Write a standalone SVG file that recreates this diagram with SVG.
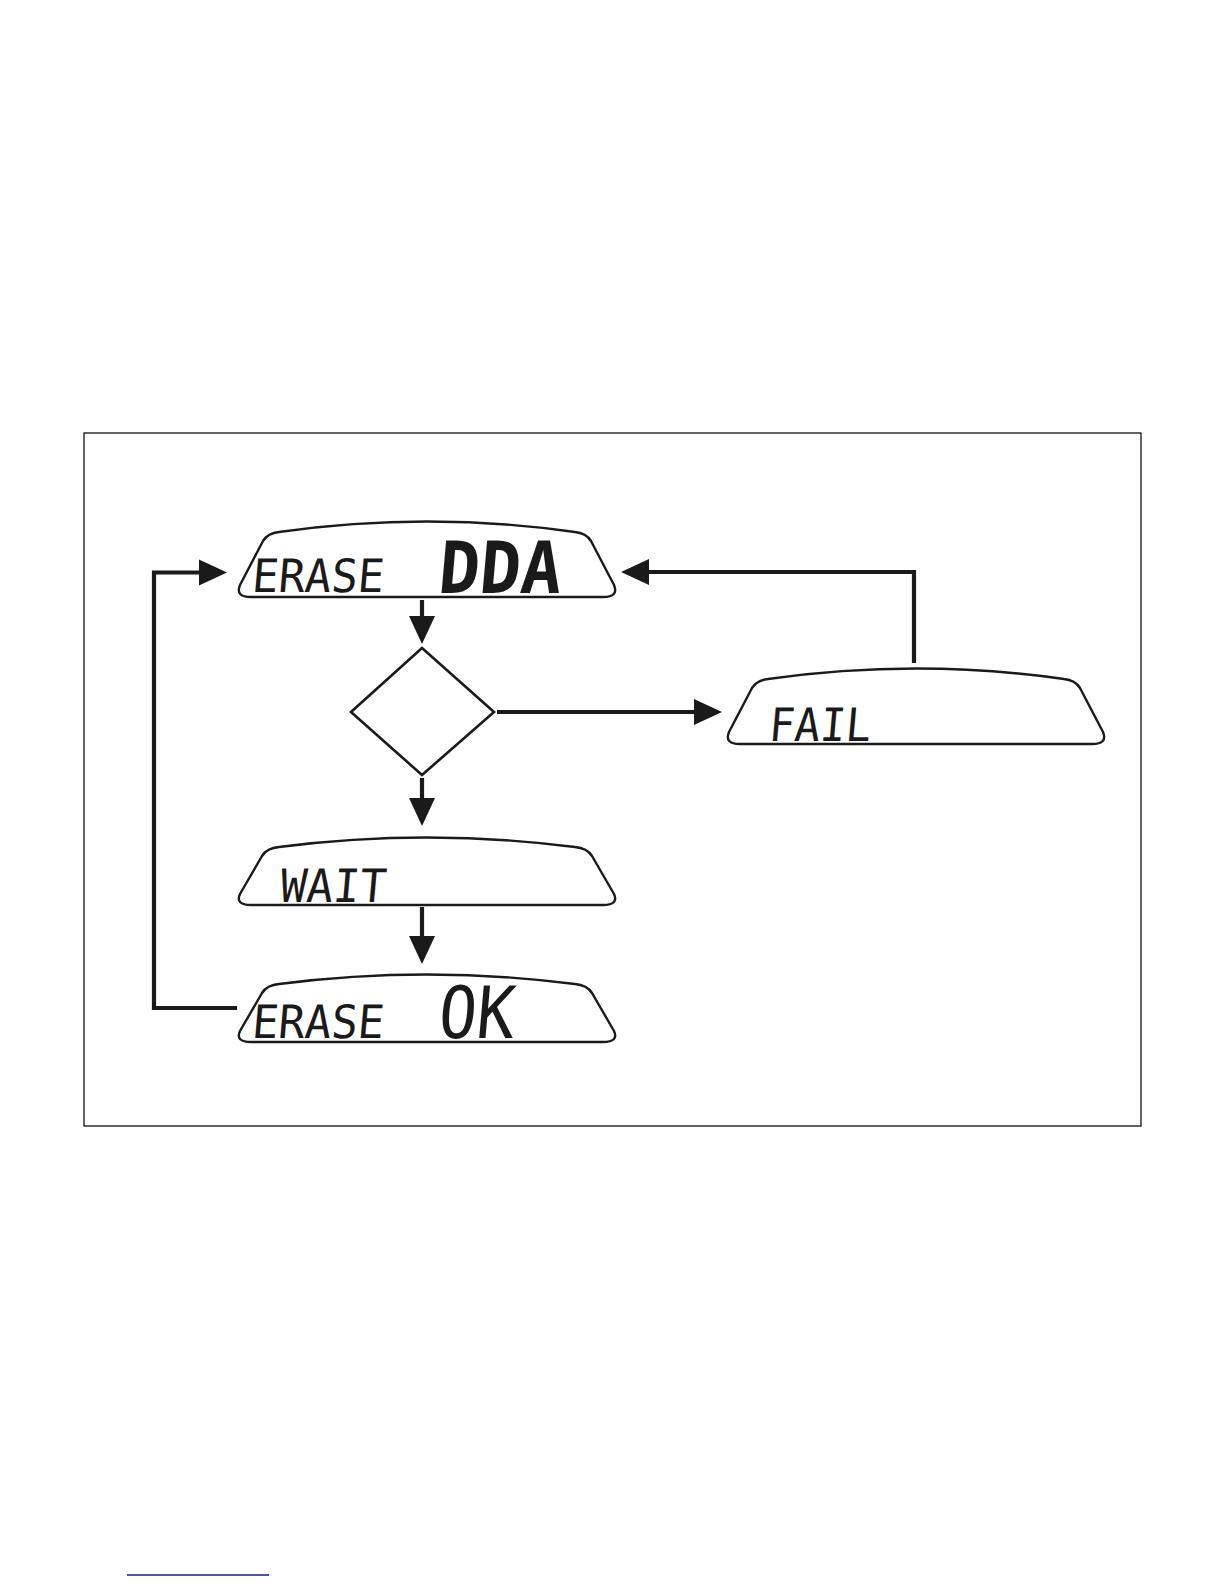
<svg xmlns="http://www.w3.org/2000/svg" width="1224" height="1584" viewBox="0 0 1224 1584">
<style>
.frame{fill:none;stroke:#111;stroke-width:1.3}
.lcd{fill:#fff;stroke:#1a1a1a;stroke-width:2.4;stroke-linejoin:round}
.dia{fill:#fff;stroke:#1a1a1a;stroke-width:2.6}
.conn{fill:none;stroke:#1a1a1a;stroke-width:4.2;stroke-linejoin:miter}
.seg{font-family:"DejaVu Sans Mono","Liberation Mono",monospace;fill:#1a1a1a}
.small{font-size:46px;font-weight:normal}
.big{font-size:72px;font-weight:bold}
</style>
<defs>
<path id="lcdTall" d="M 14,76 H 366 Q 382,76 377,64 L 354,20 Q 349,12 338,11 Q 190,-10 42,11 Q 31,12 26,20 L 3,64 Q -2,76 14,76 Z"/>
<path id="lcdShort" d="M 14,68 H 366 Q 382,68 377,57 L 355,19 Q 350,11 338,10 Q 190,-9 42,10 Q 30,11 25,19 L 3,57 Q -2,68 14,68 Z"/>
<marker id="ah" markerUnits="userSpaceOnUse" markerWidth="30" markerHeight="28" refX="2" refY="13" orient="auto" viewBox="0 0 30 26">
<path d="M0,0 L28,13 L0,26 Z" fill="#1a1a1a"/>
</marker>
</defs>
<rect class="frame" x="84" y="433" width="1057" height="693"/>
<g id="connectors">
<polyline class="conn" points="237,1008 154,1008 154,572.5 201,572.5" marker-end="url(#ah)"/>
<polyline class="conn" points="914,663 914,572 647,572" marker-end="url(#ah)"/>
<line class="conn" x1="497" y1="712" x2="696" y2="712" marker-end="url(#ah)"/>
<line class="conn" x1="422" y1="600" x2="422" y2="618" marker-end="url(#ah)"/>
<line class="conn" x1="422" y1="778" x2="422" y2="800" marker-end="url(#ah)"/>
<line class="conn" x1="422" y1="907" x2="422" y2="938" marker-end="url(#ah)"/>
</g>
<g id="erase-dda">
<use href="#lcdTall" class="lcd" x="237" y="521"/>
<text class="seg small" x="251" y="592" textLength="132" lengthAdjust="spacingAndGlyphs" transform="skewX(-5) translate(51.8,0)">ERASE</text>
<text class="seg big" x="437" y="593" textLength="123" lengthAdjust="spacingAndGlyphs" transform="skewX(-5) translate(51.9,0)">DDA</text>
</g>
<g id="decision">
<polygon class="dia" points="422,648 494,712 422,775 351,712"/>
</g>
<g id="fail">
<use href="#lcdTall" class="lcd" x="726" y="668"/>
<text class="seg small" x="768" y="741" textLength="102" lengthAdjust="spacingAndGlyphs" transform="skewX(-5) translate(64.8,0)">FAIL</text>
</g>
<g id="wait">
<use href="#lcdShort" class="lcd" x="237" y="837"/>
<text class="seg small" x="279" y="902" textLength="106" lengthAdjust="spacingAndGlyphs" transform="skewX(-5) translate(78.9,0)">WAIT</text>
</g>
<g id="erase-ok">
<use href="#lcdShort" class="lcd" x="237" y="974"/>
<text class="seg small" x="251" y="1038" textLength="132" lengthAdjust="spacingAndGlyphs" transform="skewX(-5) translate(90.8,0)">ERASE</text>
<text class="seg big" x="437" y="1038" textLength="76" lengthAdjust="spacingAndGlyphs" style="font-weight:normal" transform="skewX(-5) translate(90.8,0)">OK</text>
</g>
<line x1="127" y1="1575" x2="269" y2="1575" stroke="#1a1a9c" stroke-width="1.6"/>
</svg>
